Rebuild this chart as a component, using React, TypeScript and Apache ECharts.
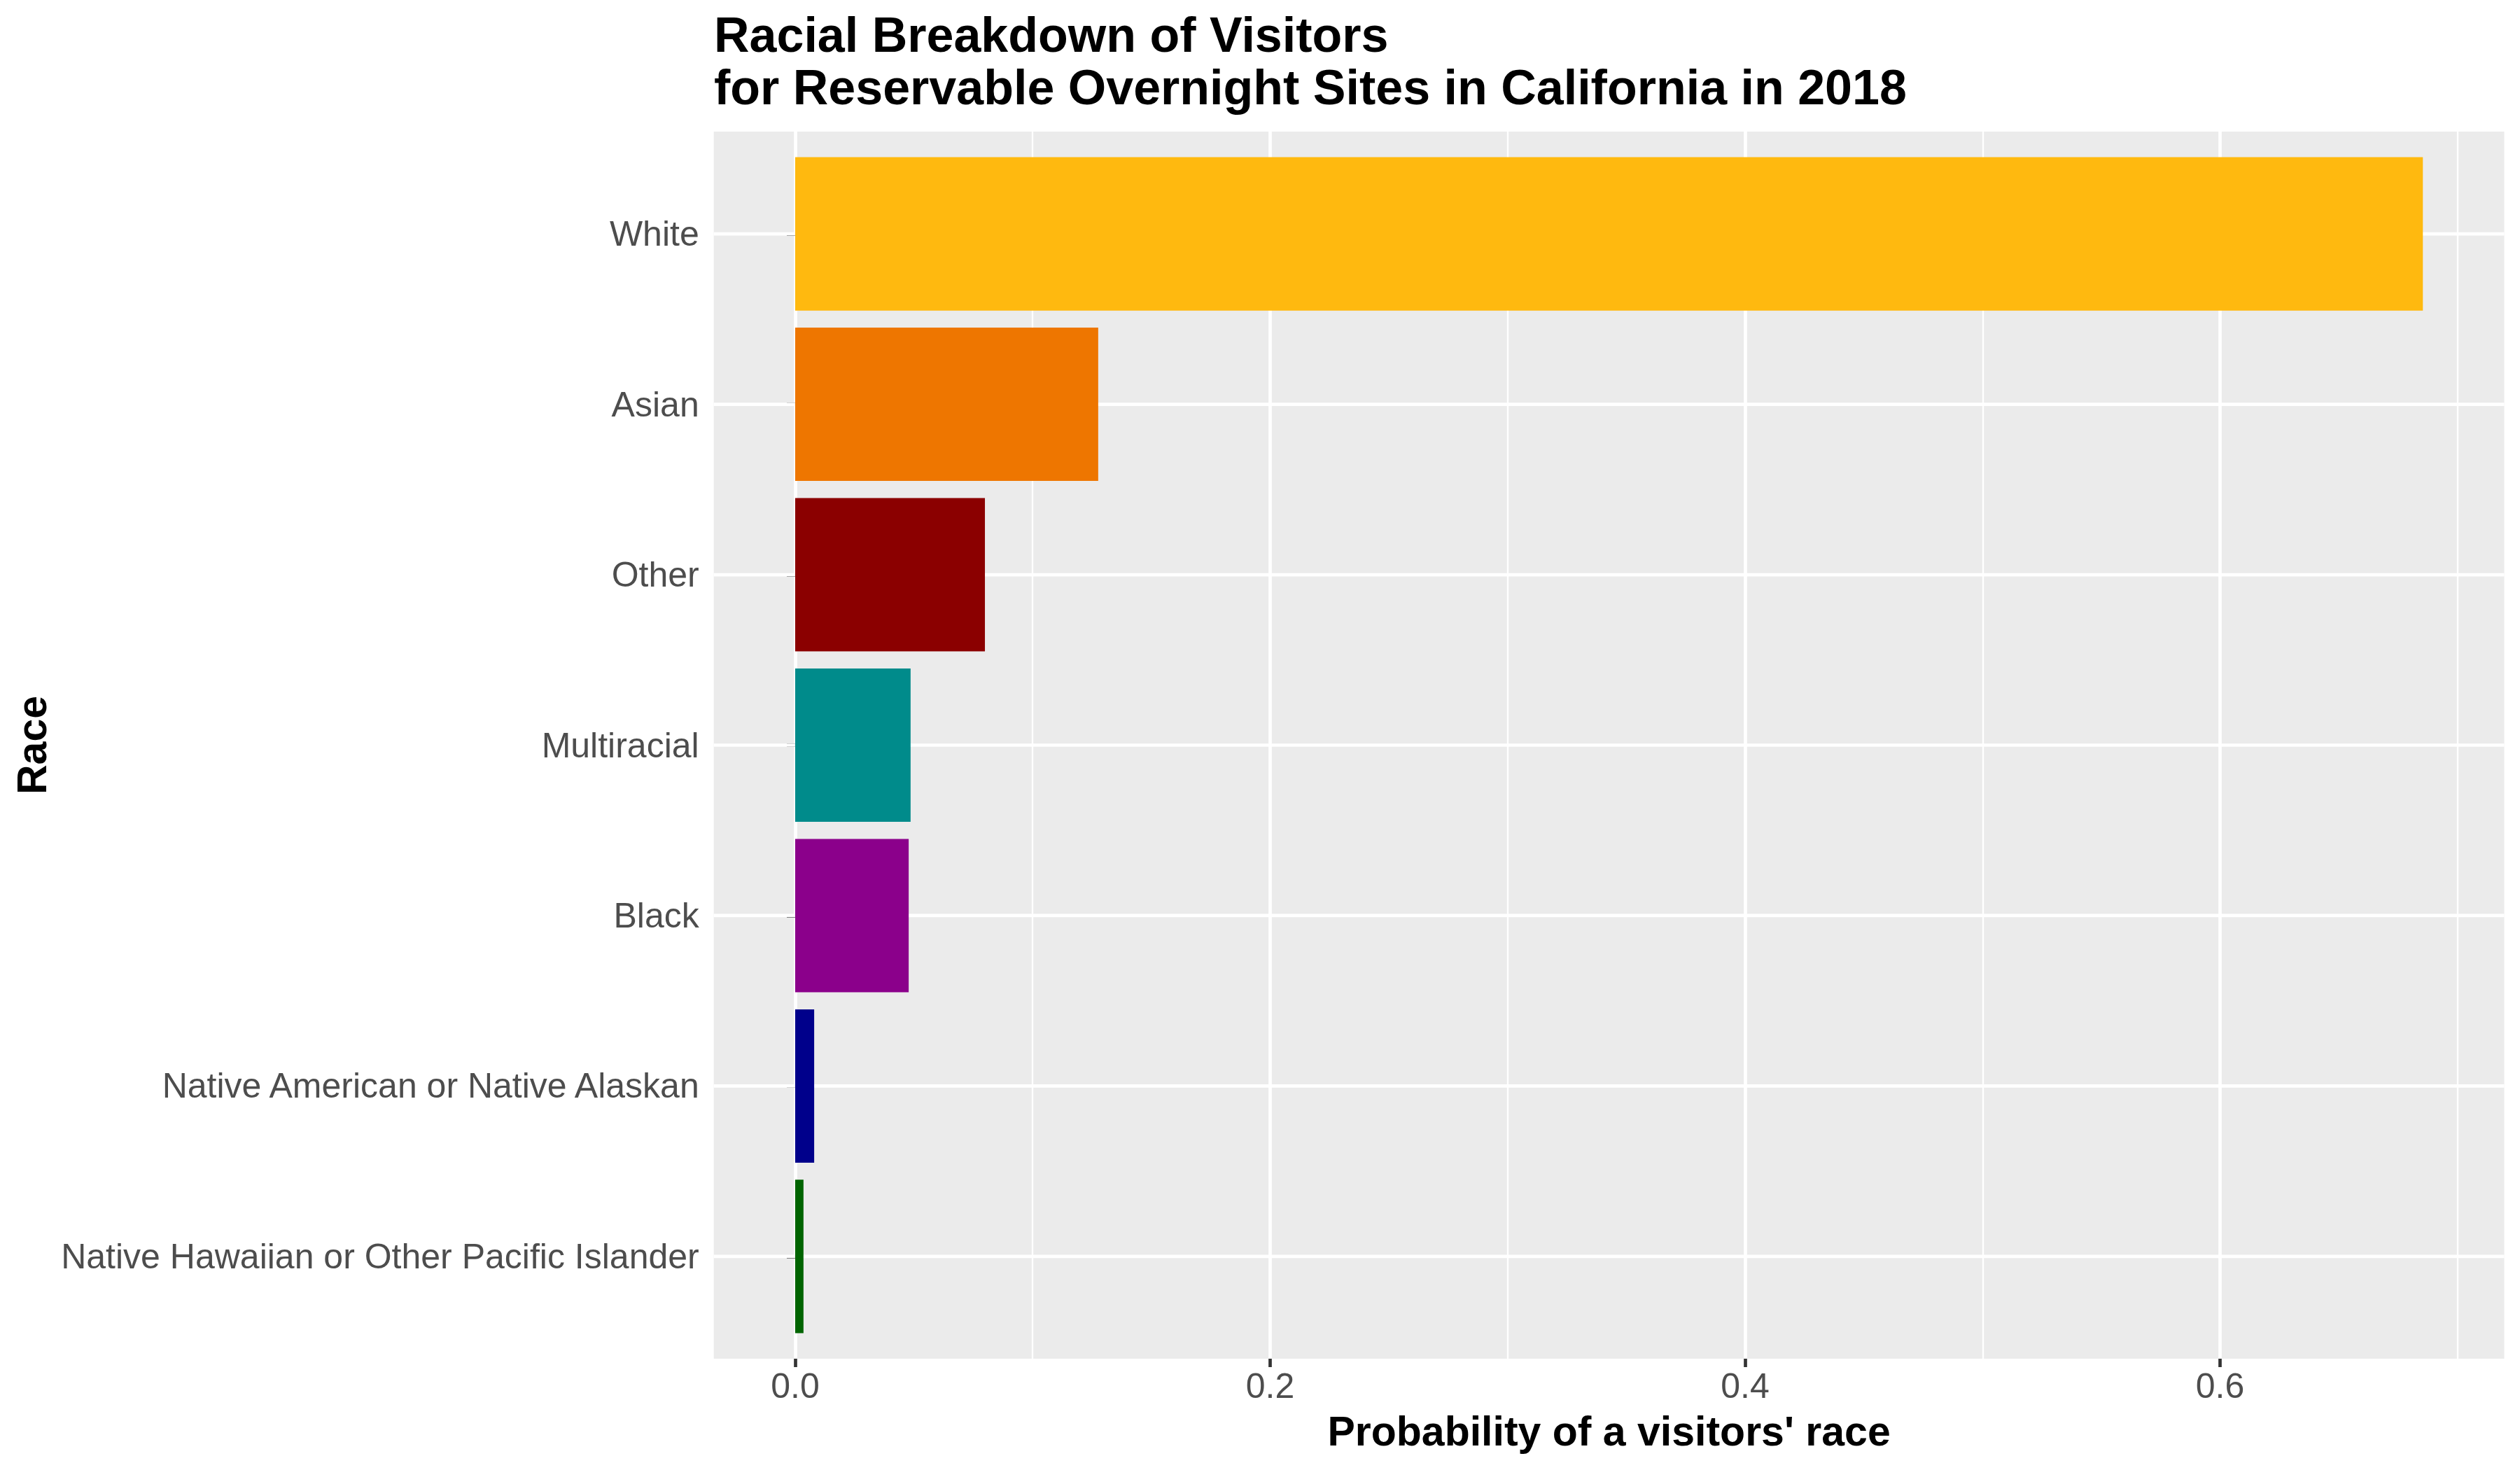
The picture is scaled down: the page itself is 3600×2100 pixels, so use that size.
import React, { useEffect, useRef } from "react";
import * as echarts from "echarts";

const categories = [
  "Native Hawaiian or Other Pacific Islander",
  "Native American or Native Alaskan",
  "Black",
  "Multiracial",
  "Other",
  "Asian",
  "White",
];
const probabilities = [0.0035, 0.008, 0.0478, 0.0486, 0.0799, 0.1276, 0.6854];
const barColors = ["#006400", "#00008B", "#8B008B", "#008B8B", "#8B0000", "#EE7600", "#FFB90F"];
const xTickValues = [0, 0.2, 0.4, 0.6];

const titleText = "Racial Breakdown of Visitors\nfor Reservable Overnight Sites in California in 2018";
const xTitle = "Probability of a visitors' race";
const yTitle = "Race";

export default function App() {
  const ref = useRef<HTMLDivElement>(null);

  useEffect(() => {
    if (!ref.current) return;
    const chart = echarts.init(ref.current, null, { renderer: "svg" });
    const maxVal = Math.max(...probabilities);
    const pad = maxVal * 0.05;
    const xMin = -pad;
    const xMax = maxVal + pad;

    const font = "Liberation Sans";
    const panel = { left: 1019.7, right: 22.5, top: 188, bottom: 159 };
    const bandPad = (2100 - panel.top - panel.bottom) * (0.1 / 7.2);

    chart.setOption({
      animation: false,
      backgroundColor: "#FFFFFF",
      title: {
        text: titleText,
        left: 1020,
        top: 12,
        padding: 0,
        textStyle: {
          fontFamily: font,
          fontSize: 70,
          fontWeight: "bold",
          color: "#000000",
          lineHeight: 75,
        },
      },
      grid: [
        {
          left: panel.left,
          right: panel.right,
          top: panel.top,
          bottom: panel.bottom,
          show: true,
          backgroundColor: "#EBEBEB",
          borderWidth: 0,
          containLabel: false,
        },
        {
          left: panel.left,
          right: panel.right,
          top: panel.top + bandPad,
          bottom: panel.bottom + bandPad,
          show: false,
          containLabel: false,
        },
      ],
      xAxis: [
        {
          type: "value",
          gridIndex: 0,
          min: xMin,
          max: xMax,
          splitNumber: 4,
          name: xTitle,
          nameLocation: "middle",
          nameGap: 74,
          nameTextStyle: {
            fontFamily: font,
            fontSize: 59,
            fontWeight: "bold",
            color: "#000000",
          },
          axisLine: { show: false },
          axisTick: {
            show: true,
            length: 12,
            customValues: xTickValues,
            lineStyle: { color: "#333333", width: 4.7 },
          },
          axisLabel: {
            show: true,
            customValues: xTickValues,
            margin: 14,
            fontFamily: font,
            fontSize: 50,
            color: "#4D4D4D",
            formatter: (v: number) => v.toFixed(1),
          },
          splitLine: { show: true, lineStyle: { color: "#FFFFFF", width: 4.7 } },
          minorTick: { show: false, splitNumber: 2 },
          minorSplitLine: { show: true, lineStyle: { color: "#FFFFFF", width: 2.35 } },
        },
        {
          type: "value",
          gridIndex: 1,
          min: xMin,
          max: xMax,
          show: false,
        },
      ],
      yAxis: [
        {
          type: "value",
          gridIndex: 0,
          min: 0,
          max: 1,
          show: false,
        },
        {
          type: "category",
          gridIndex: 1,
          data: categories,
          name: yTitle,
          nameLocation: "middle",
          nameGap: 944,
          nameTextStyle: {
            fontFamily: font,
            fontSize: 59,
            fontWeight: "bold",
            color: "#000000",
          },
          axisLine: { show: false },
          axisTick: {
            show: true,
            alignWithLabel: true,
            length: 12,
            lineStyle: { color: "#333333", width: 4.7 },
          },
          axisLabel: {
            margin: 21,
            fontFamily: font,
            fontSize: 50,
            color: "#4D4D4D",
          },
          splitLine: { show: false },
        },
      ],
      series: [
        {
          type: "custom",
          xAxisIndex: 1,
          yAxisIndex: 1,
          silent: true,
          z: 1,
          encode: { x: 0, y: 1 },
          data: categories.map((c) => [0, c]),
          renderItem: (params: any, api: any) => {
            const cs = params.coordSys;
            const y = api.coord([0, api.value(1)])[1];
            return {
              type: "line",
              shape: { x1: cs.x, y1: y, x2: cs.x + cs.width, y2: y },
              style: { stroke: "#FFFFFF", lineWidth: 4.7 },
            };
          },
        },
        {
          type: "bar",
          xAxisIndex: 1,
          yAxisIndex: 1,
          barWidth: "90%",
          z: 3,
          data: probabilities.map((v, i) => ({
            value: v,
            itemStyle: { color: barColors[i] },
          })),
        },
      ],
    });

    return () => {
      chart.dispose();
    };
  }, []);

  return (
    <div
      ref={ref}
      style={{
        position: "fixed",
        left: 0,
        top: 0,
        width: 3600,
        height: 2100,
        background: "#FFFFFF",
      }}
    />
  );
}
